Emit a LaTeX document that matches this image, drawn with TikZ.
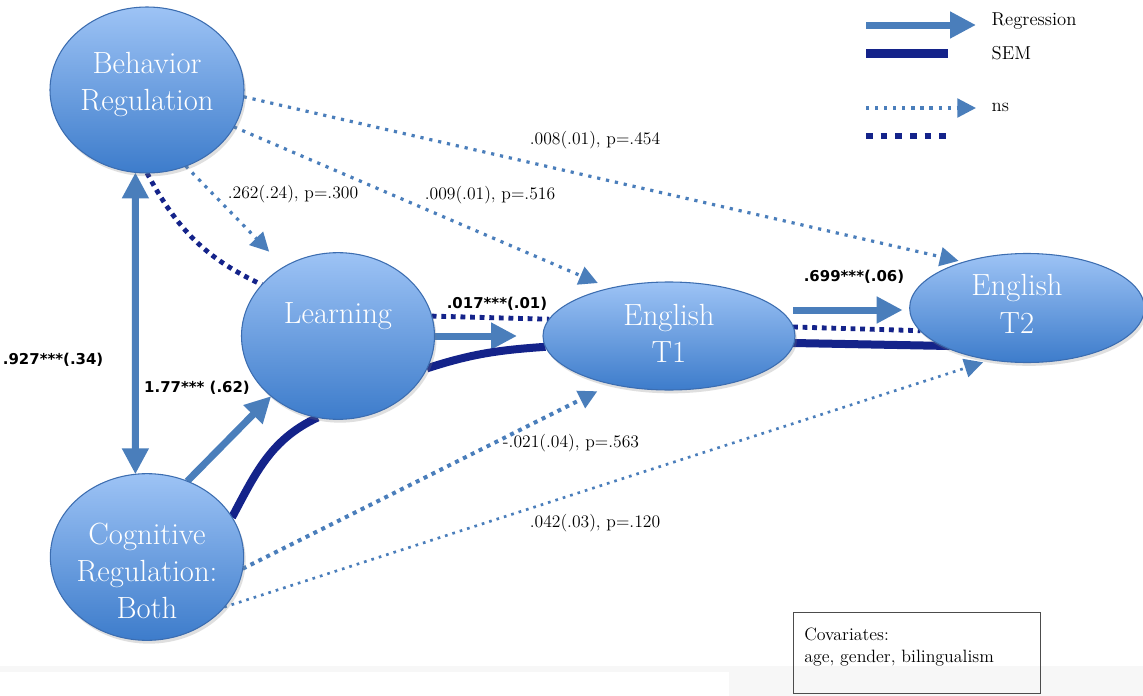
\documentclass[tikz,border=0pt]{standalone}
\usepackage{fontspec}
\newfontfamily\labsans{DejaVu Sans}
\usetikzlibrary{calc,arrows.meta,shapes.geometric,shadows}
\definecolor{blobtop}{HTML}{9DC3F5}
\definecolor{blobbot}{HTML}{3D7CCB}
\definecolor{blobedge}{HTML}{3C6DB0}
\definecolor{regblue}{HTML}{4A7EBB}
\definecolor{semnavy}{HTML}{14238A}
\pgfdeclarelayer{bg}
\pgfsetlayers{bg,main}
\tikzset{
  regtip/.tip={Triangle[length=19.5pt,width=19pt]},
  nstip/.tip={Triangle[length=14pt,width=14pt]},
  blob/.style={ellipse,draw=blobedge,line width=0.8pt,top color=blobtop,bottom color=blobbot,
    inner sep=0pt,outer sep=0pt,drop shadow={opacity=0.25,shadow xshift=1.5pt,shadow yshift=-2.5pt}},
  blobtxt/.style={text=white,align=center,font=\fontsize{23}{28}\selectfont},
  reg/.style={draw=regblue,line width=5.25pt,-regtip},
  sem/.style={draw=semnavy,line width=6pt},
  ns/.style={draw=regblue,line width=2.4pt,dash pattern=on 2.4pt off 4.4pt,-nstip},
  semns/.style={draw=semnavy,line width=3.6pt,dash pattern=on 3.6pt off 3.6pt},
  coef/.style={font=\fontsize{13.2}{15}\selectfont},
  sig/.style={font=\labsans\bfseries\fontsize{11.2}{13}\selectfont},
  keytxt/.style={anchor=west,font=\fontsize{14}{16}\selectfont}
}
\begin{document}
\begin{tikzpicture}[x=0.75pt,y=-0.75pt]
\useasboundingbox (0,0) rectangle (1143,696);
\begin{pgfonlayer}{bg}
\fill[white] (0,0) rectangle (1143,696);
\fill[gray!6] (0,666) rectangle (729,672);
\fill[gray!6] (729,666) rectangle (1143,696);
\end{pgfonlayer}
\node[blob,minimum width=145.5pt,minimum height=124.5pt,label={[blobtxt,yshift=4pt]center:Behavior\\Regulation}] (beh) at (147,90) {};
\node[blob,minimum width=144.75pt,minimum height=125pt,label={[blobtxt,yshift=15pt]center:Learning}] (learn) at (338,336) {};
\node[blob,minimum width=189pt,minimum height=81pt,label={[blobtxt,yshift=2pt]center:English\\T1}] (t1) at (669,336) {};
\node[blob,minimum width=176pt,minimum height=81.75pt,label={[blobtxt,xshift=-7.5pt,yshift=3pt]center:English\\T2}] (t2) at (1027,308) {};
\node[blob,minimum width=145pt,minimum height=125pt,label={[blobtxt,yshift=-10.5pt]center:Cognitive\\Regulation:\\Both}] (cog) at (147,557) {};
\begin{pgfonlayer}{bg}
\draw[reg,regtip-regtip] (beh.-98)--(cog.98);
\draw[reg] (cog.62)--(learn.222);
\draw[sem] (cog.25) to[out=62,in=205] (learn.256);
\draw[semns] (beh.-90) to[out=-62,in=155] (learn.146);
\draw[ns,shorten >=16pt] (beh.-63)--(learn.128);
\draw[ns,shorten >=10pt] (beh.-23)--(t1.141);
\draw[ns,shorten >=4pt] (beh.-4)--(t2.144);
\draw[reg,shorten >=19.5pt] (learn.east)--(t1.west);
\draw[semns] (learn.12)--(t1.172);
\draw[sem] (learn.-20) to[out=18,in=184] (t1.185);
\draw[reg] ($(t1.east)+(-2,-26)$)--($(t2.west)+(-7,2)$);
\draw[semns] ($(t1.east)+(-2,-9)$)--(t2.192);
\draw[sem] ($(t1.east)+(-2,7)$)--($(t2.west)+(40,38)$);
\draw[ns,line width=3pt,dash pattern=on 3pt off 3.6pt,shorten >=12pt] (cog.-7)--(t1.220);
\draw[ns,line width=2pt,dash pattern=on 2pt off 3.8pt,shorten >=6pt] (cog.-33)--(t2.235);
\end{pgfonlayer}
\node[sig,anchor=east] (lbr) at (108,360) {.927***(.34)};
\node[sig] (lcl) at (197,388) {1.77*** (.62)};
\node[coef] (lbl) at (293,194) {.262(.24), p=.300};
\node[coef] (lb1) at (490,195) {.009(.01), p=.516};
\node[coef] (lb2) at (595,140) {.008(.01), p=.454};
\node[sig] (ll1) at (497,304) {.017***(.01)};
\node[sig] (l12) at (854,277) {.699***(.06)};
\node[coef] (lc1) at (571,443) {-.021(.04), p=.563};
\node[coef] (lc2) at (595,523) {.042(.03), p=.120};
\node[keytxt] (kreg) at (987,21) {Regression};
\node[keytxt] (ksem) at (987,53) {SEM};
\node[keytxt] (kns) at (987,107) {ns};
\draw[reg] ($(kreg.west)+(-121,4)$)--($(kreg.west)+(-11,4)$);
\draw[sem,line width=6.75pt] ($(ksem.west)+(-121,0)$)--($(ksem.west)+(-39,0)$);
\draw[ns] ($(kns.west)+(-121,1)$)--($(kns.west)+(-11,1)$);
\draw[semns,line width=5pt,dash pattern=on 5pt off 6pt] ($(kns.west)+(-121,29)$)--($(kns.west)+(-39,29)$);
\node[draw=black!70,line width=0.9pt,anchor=north west,minimum width=185.25pt,minimum height=60.75pt,inner sep=0pt] (cov) at (793,612) {};
\node[anchor=north west,align=left,inner sep=0pt,font=\fontsize{13.4}{16.5}\selectfont] (covtxt) at ($(cov.north west)+(11,16)$) {Covariates:\\age, gender, bilingualism};
\end{tikzpicture}
\end{document}
